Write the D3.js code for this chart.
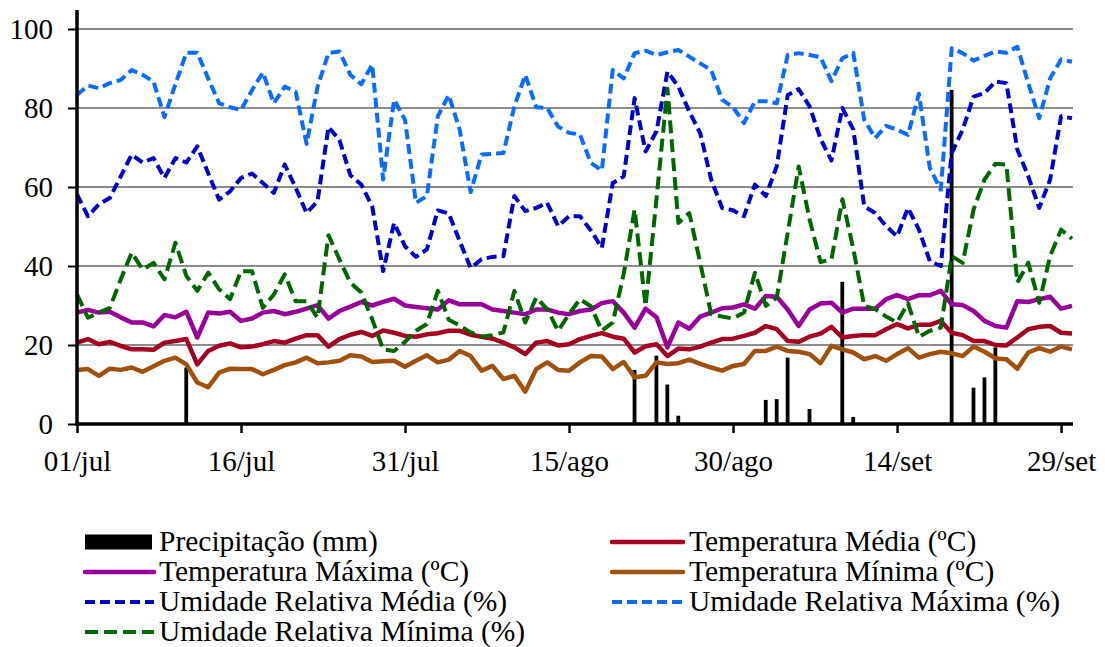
<!DOCTYPE html>
<html>
<head>
<meta charset="utf-8">
<script src="https://cdn.jsdelivr.net/npm/d3@7"></script>
<style>
  body { margin: 0; background: #fff; }
  svg { display: block; font-family: "Liberation Serif", "Times New Roman", serif; }
</style>
</head>
<body>
<svg width="1105" height="647"></svg>
<script>
// daily values, 01/jul to 30/set
var precip = [0,0,0,0,0,0,0,0,0,0,14.3,0,0,0,0,0,0,0,0,0,0,0,0,0,0,0,0,0,0,0,
  0,0,0,0,0,0,0,0,0,0,0,0,0,0,0,0,0,0,0,0,0,13.7,0,17.3,10,2.1,0,0,0,0,
  0,0,0,6.1,6.3,16.8,0,3.8,0,0,36,1.8,0,0,0,0,0,0,0,0,84.6,0,9.2,11.8,19.4,0,0,0,0,0,
  0,0];
var tMed = [20.6,21.5,20.2,20.8,19.8,18.9,18.9,18.8,20.6,21,21.5,15.1,18.5,19.8,20.4,19.4,19.6,20.2,21,20.6,
  21.6,22.5,22.5,19.6,21.5,22.6,23.3,22.3,23.7,23.1,22.3,22.1,22.7,23,23.6,23.6,22.6,22.1,21.6,20.6,
  19.4,17.7,20.6,21,19.9,20.2,21.5,22.3,23,22.1,21.6,18.1,19.7,20.2,17.2,19.1,18.9,19.6,20.6,21.5,
  21.6,22.3,23.1,24.8,24,21,20.8,22.1,22.9,24.6,21.9,22.3,22.5,22.5,24,25.3,24.2,25.1,25.1,26.1,
  23.1,22.5,21,21,20,19.9,21.9,24,24.6,24.8,23.1,22.9];
var tMax = [28.2,28.9,28.2,28.4,27,25.7,25.7,24.7,27.6,27,28.4,21.9,28.2,28,28.4,26.1,26.7,28.2,28.6,27.8,
  28.4,29.2,30.1,26.7,28.6,29.7,30.9,30,30.9,31.7,30,29.6,29.3,29,31.3,30.3,30.3,30.3,29,28.6,
  28.2,27.8,29,29,28.2,27.8,28.6,29,30.6,31.1,28.2,24.4,29.2,27,19.4,25.7,24.1,27.2,28.2,29.3,
  29.5,30.3,29.2,32.4,32.2,29,24.8,29,30.5,30.7,28.2,29.2,29.2,29.2,31.6,32.6,31.6,32.6,32.6,33.7,
  30.3,30.1,28.6,26.1,24.8,24.4,31.1,30.9,31.6,32.2,29.2,29.9];
var tMin = [13.7,13.9,12.2,14,13.7,14.3,13.2,14.6,16,16.8,15.1,10.5,9.3,13,14,13.9,13.9,12.6,13.7,14.9,
  15.6,16.8,15.4,15.6,16,17.4,17.1,15.7,15.9,16,14.5,16,17.4,15.6,16.3,18.5,17.2,13.5,14.7,11.4,
  12.2,8.2,13.9,15.6,13.7,13.5,15.6,17.2,17.1,13.9,15.7,11.8,12.2,15.6,15.2,15.4,16.3,15.2,14.3,13.5,
  14.7,15.2,18.5,18.5,19.6,18.5,18.3,17.7,15.4,19.8,18.9,18.1,16.4,17.2,16,17.7,19.2,16.8,17.7,18.3,
  17.9,17.2,19.6,18.3,16.6,16.4,14,18.1,19.2,18.3,19.6,18.9];
var urMed = [58.1,52.6,55.6,57.2,62.7,68.2,66.2,67.3,62.3,67.3,66.2,70.3,63.5,56.8,58.9,62.3,63.4,61,58.5,65.7,
  59.8,53.4,56.4,75.2,71.9,63,60.6,55.1,38.7,50.9,45,42.3,44.2,54.1,53.3,46.3,39.5,41.7,42.3,42.5,
  57.7,53.9,54.7,56,50.1,52.6,52.6,49,44.6,61,62.7,82.5,69,74.1,89.2,85.4,79.1,73.6,61.9,54.7,
  54.1,52.6,60.6,57.7,65.3,83.3,84.8,80.4,72.2,66.7,80,74.5,55.1,53.4,50.1,47.5,54.7,49.2,41.2,40,
  68.6,74.5,82.9,83.8,86.7,86.3,69.5,62.7,54.7,61.9,77.9,77.4];
var urMax = [83.3,85.7,85,86.3,87.1,89.6,88.4,86.7,77.7,86,94,94,87.5,81.2,80.2,79.5,84.5,89,81.2,85.4,
  84.1,70.9,85.4,93.9,94.3,88.4,86,91,61.9,82.1,77,56,57.7,77.9,83.3,74.5,58.7,68.2,68.4,68.6,
  80.4,88.4,80.2,80,75.3,73.7,73.3,66.1,64.2,89.6,87.5,93.9,94.5,93.4,94.1,94.7,93,91.3,89.6,82.1,
  80.2,76.2,81.7,81.7,81.2,93.4,93.9,93.4,92.9,86.8,92.6,93.9,77,72.4,75.5,74.5,73.2,83.6,64.8,59.3,
  95.1,93.9,92,93.2,94.3,94,95.5,86.3,77.4,87.5,92.3,91.7];
var urMin = [32.8,26.9,28.2,29.4,36.6,43.4,39.1,40.8,36.6,45.9,37.5,33.7,38.3,34.1,31.6,38.7,38.7,29.4,32.8,37.9,
  31.1,31.1,26.9,47.8,41.7,35.8,33.3,26.5,18.9,18.5,20.8,23.6,25.3,33.7,26.4,24.9,23.2,22.1,22.5,23.2,
  33.7,25.7,32,29.1,23.6,27.8,31.6,29.8,23.6,25.7,38,54.3,29.9,57,84.9,50.9,53.4,40.8,27.8,27.2,
  26.7,28.2,38.3,29.9,32,48.4,65.2,51.8,41,41.7,56.9,44.3,29.9,29.1,27.2,25.7,30.6,22.1,23.6,24.4,
  42.5,40.8,54.3,61.9,65.9,65.7,35.8,40.8,30.7,42.5,49.2,46.9];

var tickLabels = ["01/jul", "16/jul", "31/jul", "15/ago", "30/ago", "14/set", "29/set"];
var yTicks = [0, 20, 40, 60, 80, 100];

var days = d3.utcDay.range(new Date(Date.UTC(2013, 6, 1)), new Date(Date.UTC(2013, 9, 1)));
var tickDates = tickLabels.map(function(d, i) { return days[i * 15]; });

var svg = d3.select("svg");

var x = d3.scaleUtc()
    .domain([days[0], days[days.length - 1]])
    .range([77, 1072]);
var y = d3.scaleLinear()
    .domain([0, 100])
    .range([424, 29]);

// gridlines
svg.append("g")
  .selectAll("line")
  .data(yTicks.filter(function(d) { return d > 0; }))
  .enter().append("line")
    .attr("x1", 77).attr("x2", 1073)
    .attr("y1", function(d) { return y(d); })
    .attr("y2", function(d) { return y(d); })
    .attr("stroke", "#8c8c8c")
    .attr("stroke-width", 2);

// precipitation bars (behind the lines)
svg.append("g")
  .selectAll("rect")
  .data(precip.map(function(v, i) { return {d: days[i], v: v}; }).filter(function(p) { return p.v > 0; }))
  .enter().append("rect")
    .attr("x", function(p) { return x(p.d) - 2; })
    .attr("width", 3.8)
    .attr("y", function(p) { return y(p.v); })
    .attr("height", function(p) { return y(0) - y(p.v); })
    .attr("fill", "#000");

var series = [
  {name: "Temperatura Média (ºC)", values: tMed, color: "#a50021", width: 4.5, dash: null},
  {name: "Temperatura Máxima (ºC)", values: tMax, color: "#990099", width: 4.5, dash: null},
  {name: "Temperatura Mínima (ºC)", values: tMin, color: "#a0500f", width: 4.5, dash: null},
  {name: "Umidade Relativa Média (%)", values: urMed, color: "#0000cc", width: 4, dash: "10,5"},
  {name: "Umidade Relativa Máxima (%)", values: urMax, color: "#0a6cff", width: 4, dash: "10,5"},
  {name: "Umidade Relativa Mínima (%)", values: urMin, color: "#006600", width: 4, dash: "13,6"}
];

var line = d3.line()
    .x(function(v, i) { return x(days[i]); })
    .y(function(v) { return y(v); });

svg.append("g")
  .selectAll("path")
  .data(series)
  .enter().append("path")
    .attr("d", function(s) { return line(s.values); })
    .attr("fill", "none")
    .attr("stroke", function(s) { return s.color; })
    .attr("stroke-width", function(s) { return s.width; })
    .attr("stroke-dasharray", function(s) { return s.dash; })
    .attr("stroke-linejoin", "round");

// y axis
var yAxis = svg.append("g")
    .attr("transform", "translate(77,0)")
    .call(d3.axisLeft(y).tickValues(yTicks).tickSize(9).tickPadding(15));
yAxis.select(".domain").remove();
yAxis.selectAll(".tick line").attr("stroke", "#000").attr("stroke-width", 2);
yAxis.selectAll("text")
    .attr("font-family", "Liberation Serif")
    .attr("font-size", 29)
    .attr("fill", "#000");
svg.append("line")
    .attr("x1", 77).attr("x2", 77)
    .attr("y1", 10).attr("y2", 425.5)
    .attr("stroke", "#000").attr("stroke-width", 3.5);

// x axis
var xAxis = svg.append("g")
    .attr("transform", "translate(0,424)")
    .call(d3.axisBottom(x).tickValues(tickDates).tickSize(9).tickPadding(17)
      .tickFormat(function(d, i) { return tickLabels[i]; }));
xAxis.select(".domain").remove();
xAxis.selectAll(".tick line").attr("stroke", "#000").attr("stroke-width", 2.5);
xAxis.selectAll("text")
    .attr("font-family", "Liberation Serif")
    .attr("font-size", 29)
    .attr("fill", "#000");
svg.append("line")
    .attr("x1", 75.5).attr("x2", 1073)
    .attr("y1", 424).attr("y2", 424)
    .attr("stroke", "#000").attr("stroke-width", 3.5);

// legend
var legendItems = [{name: "Precipitação (mm)", bar: true}].concat(series);
var legend = svg.append("g")
  .selectAll("g")
  .data(legendItems)
  .enter().append("g")
    .attr("transform", function(d, i) {
      var col = i % 2, row = Math.floor(i / 2);
      return "translate(" + (col ? 612 : 85) + "," + (542 + row * 30) + ")";
    });

legend.each(function(d, i) {
  var g = d3.select(this);
  var col = i % 2;
  if (d.bar) {
    g.append("rect").attr("x", 0).attr("y", -7.5).attr("width", 67).attr("height", 15).attr("fill", "#000");
  } else {
    g.append("line")
      .attr("x1", 0).attr("x2", col ? 71 : 69).attr("y1", 0).attr("y2", 0)
      .attr("stroke", d.color)
      .attr("stroke-width", d.width)
      .attr("stroke-linecap", d.dash ? "butt" : "round")
      .attr("stroke-dasharray", d.dash);
  }
  g.append("text")
    .attr("x", col ? 77 : 74)
    .attr("y", 9)
    .attr("font-size", 29.5)
    .attr("fill", "#000")
    .text(d.name);
});
</script>
</body>
</html>
